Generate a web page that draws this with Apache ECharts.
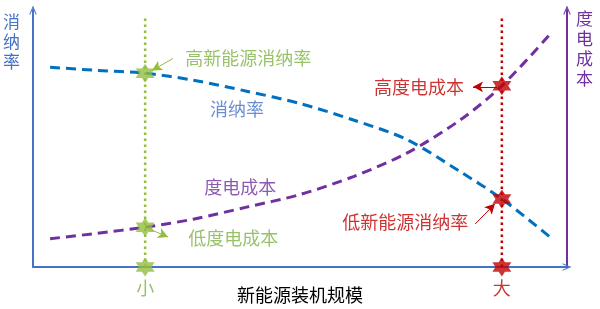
<!DOCTYPE html>
<html>
<head>
<meta charset="utf-8">
<script src="https://cdn.jsdelivr.net/npm/echarts@6/dist/echarts.min.js"></script>
<style>
  html, body { margin: 0; padding: 0; background: #fff; }
  #chart { width: 600px; height: 309px; }
</style>
</head>
<body>
<div id="chart"></div>
<script>
// Conceptual curves on a 0-100 scale for both axes
const curveX   = [3.2, 12, 21.0, 30, 40, 50, 60, 70, 80, 87.8, 96.8];
const rateVals = [77.7, 76.5, 75.4, 72.7, 68.4, 63.6, 57.2, 49.6, 37.1, 26.5, 11.7];
const costVals = [11.0, 13.1, 15.5, 18.6, 23.3, 28.2, 35.2, 44.3, 57.2, 70.5, 90.5];

// The two installed-capacity scales compared
const scaleNames = ['小', '大'];
const scaleX = [21.0, 87.8];
const guideTop = 97;
// Highlighted points at each scale: consumption rate, cost, axis
const smallPoints = [75.4, 15.5, 0];
const largePoints = [26.5, 70.5, 0];

// Annotation texts and where they sit
const noteTexts = ['高新能源消纳率', '低度电成本', '高度电成本', '低新能源消纳率', '消纳率', '度电成本'];
const noteX = [40.3, 37.5, 72.3, 69.7, 38.2, 38.8];
const noteY = [81.1, 11.4, 70.1, 17.4, 61.4, 31.1];
// Leader arrows: [fromX, fromY, toX, toY]
const arrowLines = [
  [26.2, 81.1, 22.3, 76.5],
  [21.3, 15.2, 25.3, 11.7],
  [86.9, 70.1, 82.4, 70.1],
  [82.8, 16.7, 86.5, 24.6]
];

const GREEN = '#92BE3E';
const GREEN_TEXT = '#7DB344';
const RED = '#C00000';
const BLUE = '#0070C0';
const AXIS_BLUE = '#4472C4';
const PURPLE = '#7030A0';
const FONT = '"Noto Sans CJK SC", "Noto Sans", sans-serif';

const noteColors = [GREEN_TEXT, GREEN_TEXT, RED, RED, AXIS_BLUE, PURPLE];
const arrowColors = [GREEN, GREEN, RED, RED];

const STAR = 'path://M0,-10 L2.887,-5 L8.66,-5 L5.774,0 L8.66,5 L2.887,5 L0,10 L-2.887,5 L-8.66,5 L-5.774,0 L-8.66,-5 L-2.887,-5 Z';
const ARROW_HEAD = 'path://M0,12 L5,0 L10,12 L8.6,12 L5,3.6 L1.4,12 Z';

const chart = echarts.init(document.getElementById('chart'), null, { renderer: 'canvas' });

const hiddenAxis = {
  type: 'value', min: 0, max: 100,
  axisTick: { show: false }, axisLabel: { show: false }, splitLine: { show: false }
};

const option = {
  animation: false,
  textStyle: { fontFamily: FONT },
  grid: { left: 33, right: 33, top: 10, bottom: 35 },
  xAxis: Object.assign({}, hiddenAxis, {
    name: '新能源装机规模',
    nameLocation: 'middle',
    nameGap: 19,
    nameTextStyle: { color: '#000', fontSize: 18, fontFamily: FONT },
    axisLine: { show: true, lineStyle: { color: AXIS_BLUE, width: 2 },
      symbol: ['none', ARROW_HEAD], symbolSize: [11, 9], symbolOffset: [0, 0] }
  }),
  yAxis: [
    Object.assign({}, hiddenAxis, {
      position: 'left',
      axisLine: { show: true, lineStyle: { color: AXIS_BLUE, width: 2 },
        symbol: ['none', ARROW_HEAD], symbolSize: [11, 9] }
    }),
    Object.assign({}, hiddenAxis, {
      position: 'right',
      axisLine: { show: true, lineStyle: { color: PURPLE, width: 2 },
        symbol: ['none', ARROW_HEAD], symbolSize: [11, 9] }
    })
  ],
  graphic: [
    { type: 'text', left: 3, top: 12,
      style: { text: '消\n纳\n率', fill: AXIS_BLUE, font: '17px ' + FONT, lineHeight: 20 } },
    { type: 'text', left: 576, top: 9,
      style: { text: '度\n电\n成\n本', fill: PURPLE, font: '17px ' + FONT, lineHeight: 20 } }
  ],
  series: [
    // Dotted guides at the two scales
    {
      type: 'line', symbol: 'none', silent: true, z: 1,
      data: [[scaleX[0], 0], [scaleX[0], guideTop]],
      lineStyle: { color: GREEN, width: 2.5, type: [2.5, 3.5] }
    },
    {
      type: 'line', symbol: 'none', silent: true, z: 1,
      data: [[scaleX[1], 0], [scaleX[1], guideTop]],
      lineStyle: { color: RED, width: 2.5, type: [2.5, 3.5] }
    },
    // Consumption rate curve
    {
      type: 'line', symbol: 'none', smooth: 0.3, z: 2,
      data: curveX.map((x, i) => [x, rateVals[i]]),
      lineStyle: { color: BLUE, width: 3, type: [10, 6] }
    },
    // Per-kWh cost curve
    {
      type: 'line', symbol: 'none', smooth: 0.3, z: 2,
      data: curveX.map((x, i) => [x, costVals[i]]),
      lineStyle: { color: PURPLE, width: 3, type: [10, 6] }
    },
    // Stars at the small scale
    {
      type: 'scatter', symbol: STAR, symbolSize: 19, z: 5, clip: false,
      itemStyle: { color: GREEN },
      data: smallPoints.map((y, i) => ({
        value: [scaleX[0], y],
        label: i === 2 ? { show: true, formatter: scaleNames[0], position: 'bottom', distance: 3,
          color: GREEN_TEXT, fontSize: 18, fontFamily: FONT } : { show: false }
      }))
    },
    // Stars at the large scale
    {
      type: 'scatter', symbol: STAR, symbolSize: 19, z: 5, clip: false,
      itemStyle: { color: RED },
      data: largePoints.map((y, i) => ({
        value: [scaleX[1], y],
        label: i === 2 ? { show: true, formatter: scaleNames[1], position: 'bottom', distance: 3,
          color: RED, fontSize: 18, fontFamily: FONT } : { show: false }
      }))
    },
    // Annotation texts
    {
      type: 'scatter', symbolSize: 0, z: 6, silent: true, clip: false,
      data: noteTexts.map((t, i) => ({
        value: [noteX[i], noteY[i]],
        label: { show: true, formatter: t, position: 'inside', color: noteColors[i],
          fontSize: 18, fontFamily: FONT }
      })),
      // Leader arrows
      markLine: {
        silent: true, symbol: ['none', 'arrow'], symbolSize: [8, 10],
        label: { show: false },
        data: arrowLines.map((a, i) => [
          { coord: [a[0], a[1]], lineStyle: { color: arrowColors[i], width: 1, type: 'solid' } },
          { coord: [a[2], a[3]] }
        ])
      }
    }
  ]
};

chart.setOption(option);
</script>
</body>
</html>
